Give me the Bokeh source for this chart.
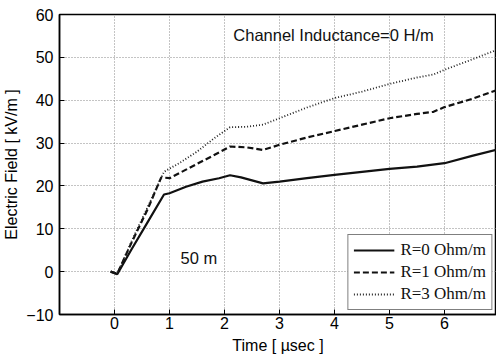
from bokeh.plotting import figure
from bokeh.models import Range1d, FixedTicker, Label, Legend, LegendItem
from bokeh.embed import file_html
from bokeh.resources import INLINE

# ---- data ----
t_r0 = [-0.07, 0.05, 0.3, 0.6, 0.9, 1.0, 1.3, 1.6, 1.9, 2.1, 2.3, 2.5, 2.7, 3.0, 3.5, 4.0, 4.5, 5.0, 5.5, 6.0, 6.5, 7.0]
e_r0 = [0.0, -0.6, 5.0, 11.5, 18.0, 18.3, 19.8, 21.0, 21.8, 22.5, 22.0, 21.3, 20.6, 21.0, 21.8, 22.6, 23.3, 24.0, 24.5, 25.3, 27.0, 28.6]

t_r1 = [-0.07, 0.05, 0.3, 0.6, 0.85, 1.0, 1.3, 1.6, 1.9, 2.1, 2.4, 2.7, 3.0, 3.5, 4.0, 4.5, 5.0, 5.5, 5.8, 6.0, 6.5, 7.0]
e_r1 = [0.0, -0.5, 6.5, 14.5, 22.0, 21.8, 23.8, 25.8, 27.8, 29.2, 29.0, 28.4, 29.6, 31.3, 32.8, 34.3, 35.8, 36.8, 37.3, 38.4, 40.3, 42.6]

t_r3 = [-0.07, 0.05, 0.3, 0.6, 0.9, 1.2, 1.5, 1.8, 2.1, 2.4, 2.7, 3.0, 3.5, 4.0, 4.5, 5.0, 5.5, 5.8, 6.0, 6.5, 7.0]
e_r3 = [0.0, -0.5, 6.8, 15.0, 23.3, 25.5, 28.0, 31.0, 33.7, 33.8, 34.3, 35.8, 38.3, 40.5, 42.0, 43.8, 45.3, 46.0, 47.1, 49.5, 52.0]

series_labels = ["R=0 Ohm/m", "R=1 Ohm/m", "R=3 Ohm/m"]
x_ticks = [0, 1, 2, 3, 4, 5, 6, 7]
y_ticks = [-10, 0, 10, 20, 30, 40, 50, 60]
title_text = "Channel Inductance=0 H/m"
distance_text = "50 m"

SANS = "Liberation Sans"
SERIF = "Liberation Serif"

p = figure(width=496, height=360, output_backend="svg", toolbar_location=None,
           x_range=Range1d(-1, 6.945), y_range=Range1d(-10, 60),
           min_border_left=59, min_border_right=0, min_border_top=14, min_border_bottom=46)

p.background_fill_color = "white"
p.border_fill_color = "white"
p.outline_line_color = "black"
p.outline_line_width = 1.5

for ax in (p.xaxis[0], p.yaxis[0]):
    ax.axis_line_color = "black"
    ax.axis_line_width = 1.5
    ax.major_tick_in = 5
    ax.major_tick_out = 0
    ax.minor_tick_line_color = None
    ax.major_label_text_font = SANS
    ax.major_label_text_font_size = "16px"
    ax.major_label_text_color = "black"
    ax.axis_label_text_font = SANS
    ax.axis_label_text_font_size = "16px"
    ax.axis_label_text_font_style = "normal"
    ax.axis_label_text_color = "black"

p.xaxis[0].ticker = FixedTicker(ticks=x_ticks)
p.yaxis[0].ticker = FixedTicker(ticks=y_ticks)
p.xaxis[0].major_label_standoff = 2
p.yaxis[0].major_label_standoff = 6
p.xaxis[0].axis_label = "Time [ µsec ]"
p.yaxis[0].axis_label = "Electric Field [ kV/m ]"
p.xaxis[0].axis_label_standoff = 5
p.yaxis[0].axis_label_standoff = 3

for g in (p.xgrid[0], p.ygrid[0]):
    g.grid_line_color = "#888888"
    g.grid_line_dash = "1 2"
    g.grid_line_width = 1

r0 = p.line(t_r0, e_r0, line_color="#111111", line_width=2.2)
r1 = p.line(t_r1, e_r1, line_color="#111111", line_width=2.2, line_dash="6 3")
r3 = p.line(t_r3, e_r3, line_color="#222222", line_width=1.8, line_dash="1 2")

p.add_layout(Label(x=2.16, y=55.3, text=title_text, text_font=SANS, text_font_size="16.5px",
                   text_baseline="middle", text_color="#111111"))
p.add_layout(Label(x=1.2, y=3.3, text=distance_text, text_font=SANS, text_font_size="16.5px",
                   text_baseline="middle", text_color="#111111"))

legend = Legend(items=[LegendItem(label=series_labels[0], renderers=[r0]),
                       LegendItem(label=series_labels[1], renderers=[r1]),
                       LegendItem(label=series_labels[2], renderers=[r3])],
                location="bottom_right")
legend.label_text_font = SERIF
legend.label_text_font_size = "17px"
legend.label_text_color = "#111111"
legend.glyph_width = 41
legend.glyph_height = 18
legend.label_height = 18
legend.label_standoff = 6
legend.spacing = 2
legend.padding = 5
legend.margin = 4
legend.border_line_color = "black"
legend.border_line_width = 1.5
legend.background_fill_color = "white"
legend.background_fill_alpha = 1.0
p.add_layout(legend)

open("out.html", "w").write(file_html(p, INLINE))
